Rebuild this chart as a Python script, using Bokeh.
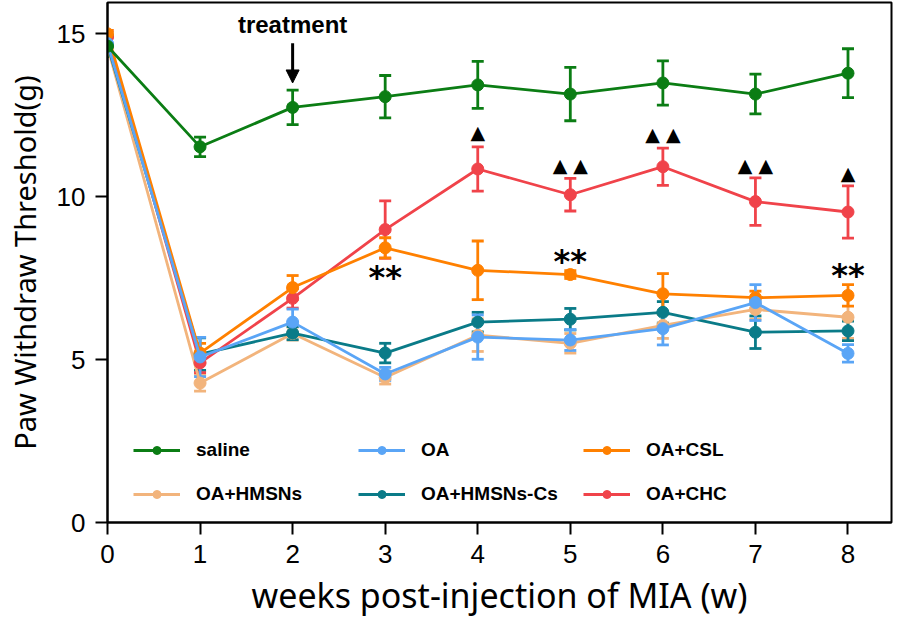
from bokeh.plotting import figure
from bokeh.models import (Whisker, TeeHead, Legend, LegendItem, Arrow, NormalHead,
                          ColumnDataSource, Range1d, FixedTicker, Label)
from bokeh.embed import file_html
from bokeh.resources import INLINE
from bokeh.core.properties import value

weeks = [0, 1, 2, 3, 4, 5, 6, 7, 8]

saline = [14.62, 11.53, 12.74, 13.07, 13.43, 13.15, 13.49, 13.15, 13.79]
saline_err = [0.32, 0.30, 0.53, 0.65, 0.72, 0.82, 0.68, 0.61, 0.75]
oa = [14.70, 5.08, 6.15, 4.56, 5.69, 5.60, 5.95, 6.75, 5.19]
oa_err = [0.30, 0.60, 0.40, 0.20, 0.68, 0.32, 0.50, 0.55, 0.27]
csl = [15.00, 5.20, 7.21, 8.43, 7.74, 7.61, 7.02, 6.90, 6.97]
csl_err = [0.10, 0.30, 0.37, 0.31, 0.90, 0.12, 0.62, 0.20, 0.33]
hmsns = [14.60, 4.28, 5.80, 4.45, 5.75, 5.50, 6.05, 6.54, 6.30]
hmsns_err = [0.30, 0.25, 0.20, 0.20, 0.50, 0.30, 0.40, 0.30, 0.65]
hmsns_cs = [14.65, 5.17, 5.81, 5.20, 6.15, 6.24, 6.45, 5.84, 5.88]
hmsns_cs_err = [0.30, 0.50, 0.20, 0.30, 0.30, 0.33, 0.33, 0.50, 0.30]
chc = [14.90, 4.90, 6.88, 8.99, 10.85, 10.06, 10.92, 9.85, 9.53]
chc_err = [0.20, 0.30, 0.30, 0.88, 0.68, 0.50, 0.57, 0.73, 0.80]

series = [
    ("OA+HMSNs", hmsns, hmsns_err, "#F2B47C"),
    ("OA+HMSNs-Cs", hmsns_cs, hmsns_cs_err, "#0A7B88"),
    ("OA+CHC", chc, chc_err, "#F0434A"),
    ("OA+CSL", csl, csl_err, "#FF8000"),
    ("OA", oa, oa_err, "#5AA5F6"),
    ("saline", saline, saline_err, "#0B7D14"),
]
# legend is filled column by column (2 rows x 3 columns)
legend_order = ["saline", "OA+HMSNs", "OA", "OA+HMSNs-Cs", "OA+CSL", "OA+CHC"]

star_weeks = [3, 5, 8]
star_y = [7.52, 8.04, 7.60]
tri_weeks = [4, 5, 6, 7, 8]
tri_text = ["▲", "▲ ▲", "▲ ▲", "▲ ▲", "▲"]
tri_y = [11.98, 10.96, 11.91, 10.96, 10.74]

p = figure(width=893, height=620, x_range=Range1d(0, 8.47), y_range=Range1d(0, 15.96),
           output_backend="svg", toolbar_location=None,
           min_border_left=107, min_border_right=2, min_border_top=2, min_border_bottom=96)
p.xgrid.visible = False
p.ygrid.visible = False
p.outline_line_color = "black"
p.outline_line_width = 2
p.outline_line_alpha = 1
p.background_fill_color = "white"

for ax in (p.xaxis[0], p.yaxis[0]):
    ax.axis_line_width = 2
    ax.axis_line_color = "black"
    ax.major_tick_line_width = 2
    ax.major_tick_line_color = "black"
    ax.major_tick_out = 12
    ax.major_tick_in = 0
    ax.minor_tick_line_color = None
    ax.major_label_text_font = "Liberation Sans"
    ax.major_label_text_font_size = "26px"
    ax.major_label_text_color = "black"
    ax.axis_label_text_font = "Noto Sans"
    ax.axis_label_text_font_style = "normal"
    ax.axis_label_text_color = "black"

p.xaxis[0].axis_label_text_font_size = "34px"
p.yaxis[0].axis_label_text_font_size = "29px"
p.xaxis[0].ticker = FixedTicker(ticks=weeks)
p.yaxis[0].ticker = FixedTicker(ticks=[0, 5, 10, 15])
p.xaxis[0].axis_label = "weeks post-injection of MIA (w)"
p.yaxis[0].axis_label = "Paw Withdraw Threshold(g)"
p.xaxis[0].major_label_standoff = 10
p.xaxis[0].axis_label_standoff = 6
p.yaxis[0].major_label_standoff = 10
p.yaxis[0].axis_label_standoff = 10

items = {}
for name, vals, errs, color in series:
    src = ColumnDataSource(dict(x=weeks, y=vals,
                                upper=[v + e for v, e in zip(vals, errs)],
                                lower=[v - e for v, e in zip(vals, errs)]))
    w = Whisker(source=src, base="x", upper="upper", lower="lower",
                line_color=color, line_width=2.8,
                upper_head=TeeHead(size=12, line_color=color, line_width=2.8),
                lower_head=TeeHead(size=12, line_color=color, line_width=2.8))
    p.add_layout(w)
    ln = p.line("x", "y", source=src, line_color=color, line_width=2.8)
    sc = p.scatter("x", "y", source=src, marker="circle", size=12,
                   fill_color=color, line_color=color)
    items[name] = [ln, sc]

legend = Legend(items=[LegendItem(label=n, renderers=items[n]) for n in legend_order],
                ncols=3, location=(26, 17), padding=0, margin=0,
                spacing=22, glyph_width=47, glyph_height=20, label_height=20,
                label_width=140, label_standoff=16,
                label_text_font="Liberation Sans", label_text_font_style="bold",
                label_text_font_size="19px", label_text_color="black",
                border_line_color=None, background_fill_alpha=0)
p.add_layout(legend)

p.text(x=star_weeks, y=star_y, text=["**"] * len(star_weeks),
       text_font=value("DejaVu Sans"), text_font_size="32px", text_font_style="bold",
       text_color="black", text_align="center", text_baseline="alphabetic")
p.text(x=tri_weeks, y=tri_y, text=tri_text,
       text_font=value("DejaVu Sans"), text_font_size="19px", text_color="black",
       text_align="center", text_baseline="alphabetic")

p.add_layout(Label(x=2, y=15.27, text="treatment", text_font="Liberation Sans",
                   text_font_style="bold", text_font_size="24px", text_color="black",
                   text_align="center", text_baseline="alphabetic"))
p.add_layout(Arrow(end=NormalHead(size=13, fill_color="black", line_color="black"),
                   x_start=2, y_start=14.71, x_end=2, y_end=13.49,
                   line_width=3, line_color="black"))

open("out.html", "w").write(file_html(p, INLINE))
